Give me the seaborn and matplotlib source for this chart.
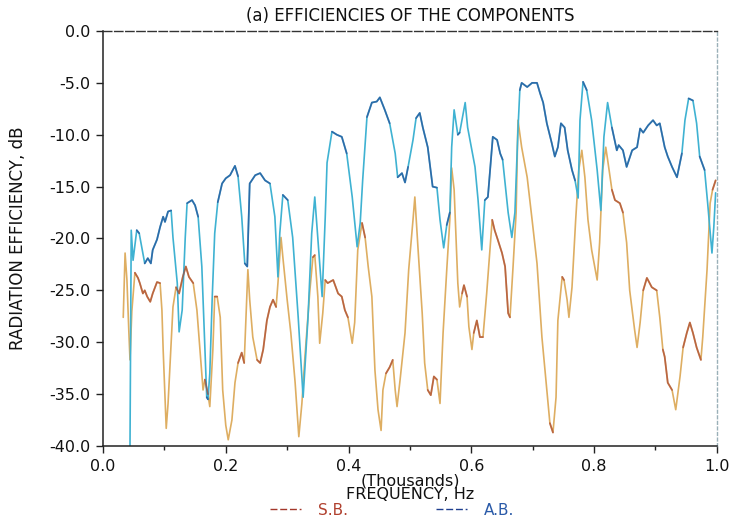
import numpy as np
import pandas as pd
import matplotlib
matplotlib.use("Agg")
import matplotlib.pyplot as plt
from matplotlib.lines import Line2D
import seaborn as sns

# ---- data: radiation efficiency (dB) against frequency (Hz) ----
ab_freq = [44, 46, 49, 55, 59, 64, 68, 73, 78, 81, 88, 93, 98, 101, 106, 111, 114, 121,
           124, 129, 134, 137, 145, 150, 155, 161, 166, 169, 171, 174, 178, 182, 187, 194,
           200, 207, 215, 220, 226, 231, 235, 239, 248, 256, 264, 272, 280, 285, 288, 293,
           301, 309, 318, 326, 334, 340, 345, 350, 357, 362, 365, 373, 381, 389, 397, 406,
           414, 419, 423, 430, 438, 446, 451, 459, 467, 476, 480, 487, 492, 497, 505, 510,
           516, 521, 529, 537, 544, 549, 555, 560, 565, 568, 572, 578, 581, 590, 594, 606,
           611, 617, 622, 627, 635, 642, 647, 651, 660, 666, 671, 676, 679, 682, 691, 699,
           707, 712, 717, 723, 731, 736, 741, 746, 752, 757, 764, 769, 774, 777, 782, 788,
           796, 805, 811, 816, 822, 829, 837, 840, 847, 853, 862, 870, 875, 880, 888, 896,
           902, 907, 915, 920, 927, 935, 943, 948, 954, 961, 967, 972, 980, 985, 992, 995, 998]
ab_db = [-40.0, -19.2, -22.1, -19.2, -19.5, -21.1, -22.4, -21.9, -22.4, -21.1, -20.1, -18.9,
         -17.9, -18.4, -17.4, -17.3, -19.9, -24.3, -29.0, -26.9, -19.9, -16.6, -16.3, -16.8,
         -17.9, -22.7, -30.7, -35.3, -35.5, -33.0, -25.6, -19.5, -16.5, -14.7, -14.2, -13.9,
         -13.0, -14.0, -17.9, -22.4, -22.7, -14.7, -13.9, -13.7, -14.4, -14.7, -17.9, -23.7,
         -19.5, -15.8, -16.3, -19.9, -27.6, -35.3, -27.6, -19.5, -16.0, -20.0, -25.6, -18.0,
         -12.7, -9.7, -10.0, -10.2, -11.8, -16.0, -20.8, -18.5, -14.4, -8.3, -6.9, -6.8,
         -6.4, -7.6, -8.9, -11.8, -14.1, -13.7, -14.6, -13.1, -10.5, -8.4, -7.9, -9.3,
         -11.2, -15.0, -15.1, -18.2, -20.9, -18.7, -17.5, -11.2, -7.6, -10.0, -9.8, -6.9,
         -9.3, -13.1, -16.3, -21.1, -16.3, -16.0, -10.2, -10.5, -11.8, -12.4, -17.5, -19.9,
         -17.5, -9.5, -5.7, -5.0, -5.4, -5.0, -5.0, -6.0, -6.9, -8.9, -10.8, -12.1, -11.2,
         -8.9, -9.3, -11.5, -13.4, -14.4, -16.1, -8.6, -4.9, -5.7, -8.6, -13.4, -17.3,
         -10.2, -6.9, -9.3, -11.5, -11.0, -11.5, -13.1, -11.5, -11.2, -9.4, -9.8, -9.1,
         -8.6, -9.1, -8.9, -11.2, -12.1, -13.1, -14.1, -11.8, -8.6, -6.5, -6.7, -8.9,
         -12.1, -13.4, -16.6, -21.4, -18.9, -15.6]

sb_freq = [33, 36, 39, 42, 44, 47, 52, 57, 60, 65, 68, 72, 77, 81, 88, 93, 96, 98, 103,
           106, 109, 114, 119, 124, 130, 135, 140, 147, 153, 158, 163, 166, 171, 174, 179,
           182, 186, 191, 195, 200, 204, 210, 215, 220, 226, 230, 235, 236, 239, 244, 251,
           256, 261, 267, 272, 277, 282, 285, 290, 293, 300, 306, 313, 319, 324, 329, 337,
           342, 345, 350, 353, 358, 362, 366, 375, 383, 389, 394, 399, 406, 410, 415, 422,
           427, 432, 438, 443, 448, 453, 456, 461, 467, 472, 476, 479, 484, 492, 498, 505,
           508, 513, 520, 524, 529, 534, 539, 544, 549, 554, 560, 565, 568, 572, 577, 578,
           581, 585, 588, 593, 596, 601, 604, 609, 614, 619, 625, 630, 634, 638, 643, 650,
           655, 660, 663, 668, 673, 676, 682, 691, 699, 707, 715, 723, 728, 733, 738, 741,
           748, 751, 756, 759, 764, 770, 775, 780, 785, 790, 796, 801, 805, 809, 814, 819,
           822, 829, 834, 842, 847, 853, 858, 866, 870, 875, 880, 886, 894, 902, 907, 912,
           915, 920, 927, 933, 940, 945, 951, 956, 961, 967, 974, 977, 984, 989, 993, 998]
sb_db = [-27.6, -21.4, -24.0, -28.8, -31.7, -27.0, -23.3, -23.8, -24.3, -25.3, -25.0, -25.6,
         -26.1, -25.3, -24.2, -24.3, -26.9, -30.7, -38.3, -35.9, -32.4, -26.6, -24.7, -25.3,
         -23.7, -22.7, -23.7, -24.3, -26.9, -30.7, -34.6, -33.6, -35.0, -36.2, -30.7, -25.6,
         -25.6, -27.6, -34.6, -38.0, -39.4, -37.5, -33.9, -32.0, -31.0, -32.0, -24.3, -23.0,
         -25.9, -29.5, -31.7, -32.0, -30.7, -27.9, -26.6, -25.9, -26.6, -24.3, -19.9, -21.8,
         -25.9, -29.1, -33.9, -39.1, -35.9, -31.4, -25.0, -21.8, -21.6, -25.6, -30.1, -27.2,
         -24.0, -24.3, -24.0, -25.3, -25.6, -26.9, -27.6, -30.1, -28.1, -21.1, -18.5, -19.9,
         -22.7, -25.6, -32.7, -36.5, -38.5, -34.6, -33.0, -32.4, -31.7, -34.6, -36.2, -33.6,
         -29.1, -23.0, -18.2, -16.0, -20.8, -27.2, -32.0, -34.6, -35.1, -33.3, -33.6, -35.9,
         -29.1, -23.0, -18.2, -13.2, -15.3, -22.7, -24.3, -26.6, -25.3, -24.5, -25.6, -28.5,
         -30.7, -29.1, -27.9, -29.5, -29.5, -25.3, -21.4, -18.2, -19.2, -20.1, -21.4, -22.7,
         -27.2, -27.6, -22.7, -17.5, -8.6, -11.2, -14.1, -18.2, -22.4, -29.5, -34.6, -37.8,
         -38.7, -35.3, -27.9, -23.7, -24.0, -25.9, -27.6, -24.7, -18.2, -13.4, -11.5, -14.1,
         -18.2, -21.1, -22.7, -24.0, -20.4, -13.4, -11.2, -12.4, -15.3, -16.3, -16.6, -17.5,
         -20.4, -25.0, -28.8, -30.5, -28.1, -25.0, -23.8, -24.7, -25.0, -27.6, -30.7, -31.4,
         -33.9, -34.6, -36.5, -33.3, -30.5, -29.1, -28.1, -29.1, -30.5, -31.7, -29.5, -23.0,
         -16.6, -15.3, -14.4]

series_names = ["S.B.", "A.B."]
light_colors = {"S.B.": "#deae62", "A.B.": "#3fb2d2"}
dark_colors = {"S.B.": "#a3372a", "A.B.": "#1f3f8f"}
label_colors = {"S.B.": "#b0402e", "A.B.": "#2a5aa8"}

df = pd.concat([
    pd.DataFrame({"freq_k": np.array(sb_freq) / 1000.0, "db": sb_db, "comp": "S.B."}),
    pd.DataFrame({"freq_k": np.array(ab_freq) / 1000.0, "db": ab_db, "comp": "A.B."}),
], ignore_index=True)

sns.set_theme(style="white")
plt.rcParams["font.family"] = ["DejaVu Sans"]

fig = plt.figure(figsize=(7.33, 5.2), dpi=100)
ax = fig.add_axes([0.1405, 0.1423, 0.8375, 0.7981])

sns.lineplot(data=df, x="freq_k", y="db", hue="comp", palette=light_colors,
             hue_order=series_names, sort=False, estimator=None, lw=1.2,
             legend=False, ax=ax)

# darker ink where the pen lingered on the flatter stretches
for name in series_names:
    sub = df[df["comp"] == name]
    x = sub["freq_k"].to_numpy()
    y = sub["db"].to_numpy()
    slope = np.abs(np.diff(y) / np.diff(x)) / 1000.0
    ym = np.full(len(y), np.nan)
    for i, s in enumerate(slope):
        if s < 0.3:
            ym[i] = y[i]
            ym[i + 1] = y[i + 1]
    ax.plot(x, ym, color=dark_colors[name], lw=1.3, alpha=0.6, solid_capstyle="round")

ax.set_xlim(0.0, 1.0)
ax.set_ylim(-40.0, 0.0)
ax.set_xticks(np.arange(0.0, 1.01, 0.2))
ax.set_xticks(np.arange(0.1, 1.0, 0.2), minor=True)
ax.set_yticks(np.arange(-40.0, 0.1, 5.0))
ax.xaxis.set_major_formatter(matplotlib.ticker.FormatStrFormatter("%.1f"))
ax.yaxis.set_major_formatter(matplotlib.ticker.FormatStrFormatter("%.1f"))
ax.tick_params(axis="both", which="major", direction="out", length=5, width=1,
               color="#222222", labelsize=11.5, labelcolor="#111111", pad=4)
ax.tick_params(axis="x", which="minor", direction="out", length=3, width=1,
               color="#222222", bottom=True)
ax.tick_params(left=True, bottom=True)

for side in ["left", "bottom"]:
    ax.spines[side].set_color("#222222")
    ax.spines[side].set_linewidth(1.1)
ax.spines["top"].set_color("#333333")
ax.spines["top"].set_linestyle((0, (6, 2)))
ax.spines["top"].set_linewidth(1.0)
ax.spines["right"].set_color("#9ab0b8")
ax.spines["right"].set_linestyle((0, (2, 2)))
ax.spines["right"].set_linewidth(1.0)

ax.set_title("(a) EFFICIENCIES OF THE COMPONENTS", fontsize=12, color="#111111", pad=7)
ax.set_xlabel("(Thousands)\nFREQUENCY, Hz", fontsize=11.5, color="#111111",
              linespacing=0.9, labelpad=0)
ax.set_ylabel("RADIATION EFFICIENCY, dB", fontsize=12, color="#111111", labelpad=16)

handles = [Line2D([0], [0], color=dark_colors[n], lw=1.0, ls=(0, (5, 2)))
           for n in series_names]
leg = fig.legend(handles, series_names, loc="lower center", ncol=2, frameon=False,
                 bbox_to_anchor=(0.535, -0.022), handlelength=2.0, columnspacing=5.8,
                 handletextpad=1.1, fontsize=11)
for txt, n in zip(leg.get_texts(), series_names):
    txt.set_color(label_colors[n])

fig.savefig("out.png", dpi=100)
